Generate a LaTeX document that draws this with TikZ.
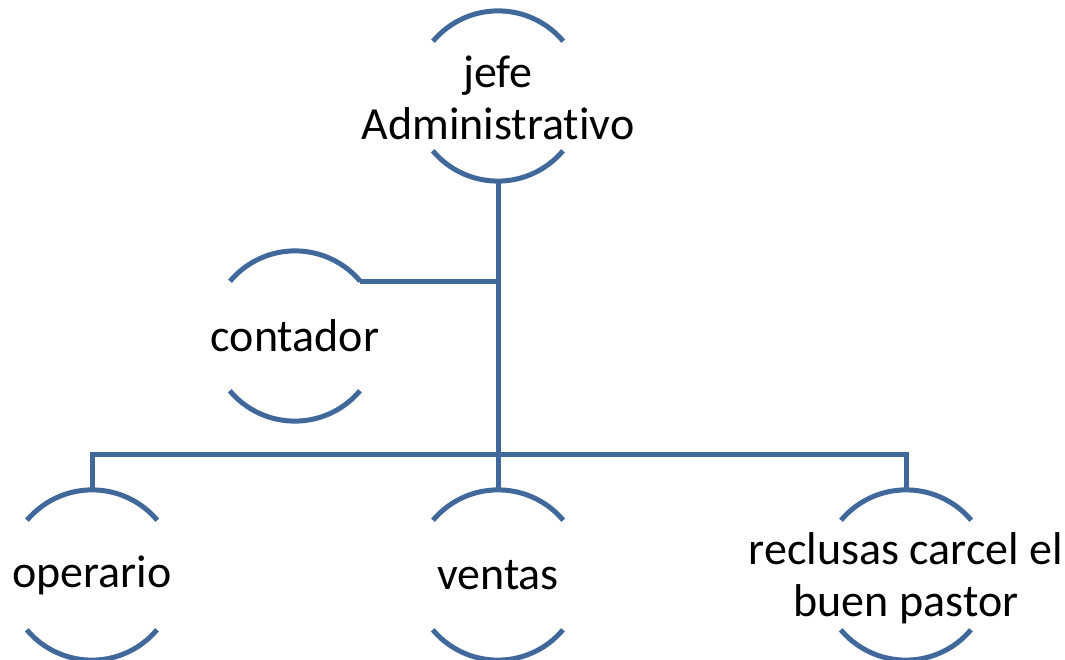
\documentclass[tikz,border=0pt]{standalone}
\usepackage{fontspec}
\setmainfont[Ligatures=NoCommon]{Carlito}
\usepackage{tikz}
\definecolor{orgblue}{HTML}{41689B}

\begin{document}
\begin{tikzpicture}[x=1pt,y=1pt,
    ring/.style={shape=circle,minimum size=170pt,inner sep=0pt},
    caption/.style={align=center,font=\fontsize{46}{52}\selectfont,inner sep=0pt},
    link/.style={draw=orgblue,line width=5pt},
    arcline/.style={draw=orgblue,line width=5pt}]
  \useasboundingbox (0,0) rectangle (1065,659);
  % rings
  \node[ring] (jefe) at (498,563) {};
  \node[ring] (cont) at (295,323) {};
  \node[ring] (oper) at (92,84) {};
  \node[ring] (vent) at (498,84) {};
  \node[ring] (recl) at (906,84) {};
  \coordinate (bar) at (498,204);
  \foreach \n in {jefe,cont,oper,vent,recl}
    \draw[arcline] (\n.40) arc[start angle=40,end angle=140,radius=85pt]
                   (\n.220) arc[start angle=220,end angle=320,radius=85pt];
  % texts
  \node[caption] (jefe-t) at ([yshift=-2pt]jefe) {jefe\\Administrativo};
  \node[caption] (cont-t) at (cont) {contador};
  \node[caption] (oper-t) at (oper) {operario};
  \node[caption] (vent-t) at (vent) {ventas};
  \node[caption] (recl-t) at ([yshift=-3pt]recl) {reclusas carcel el\\buen pastor};
  % connectors
  \draw[link] (jefe.south) -- (vent.north);
  \draw[link] (cont.40) -- (cont.40 -| jefe.south);
  \draw[link] (oper.north) |- (bar) -| (recl.north);
\end{tikzpicture}
\end{document}
